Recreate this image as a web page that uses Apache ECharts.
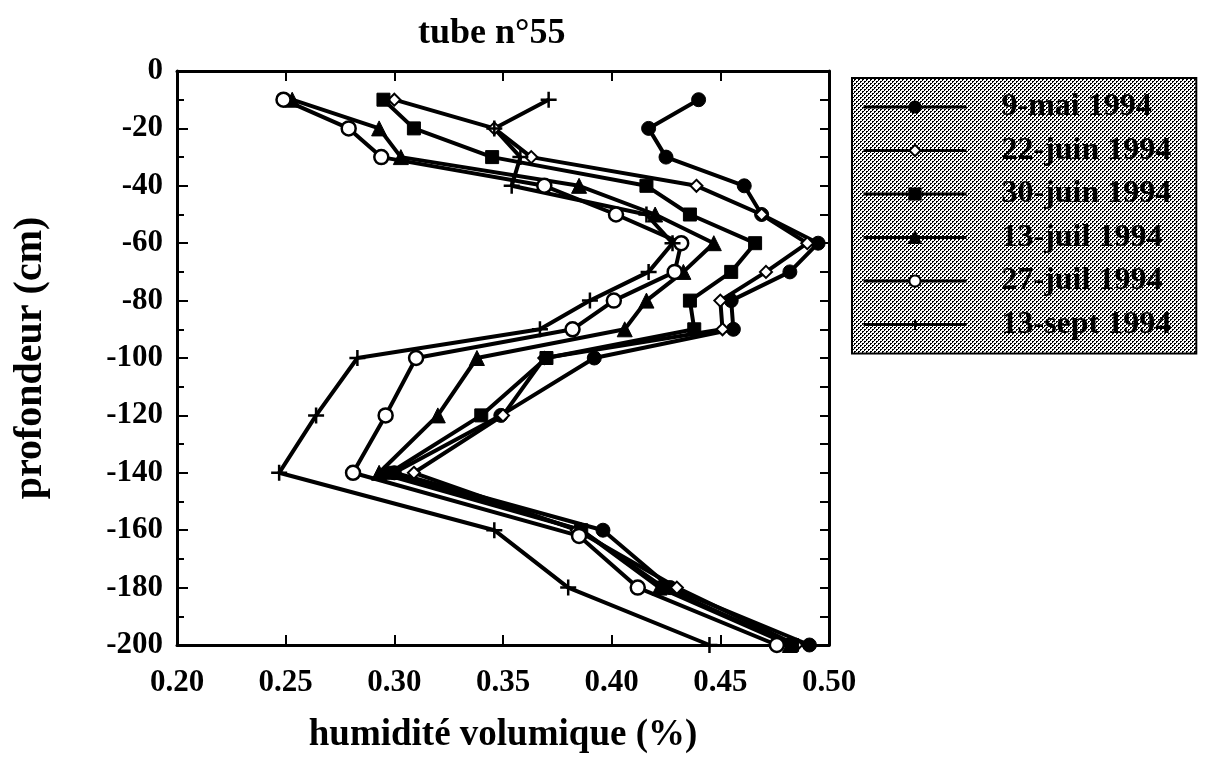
<!DOCTYPE html>
<html>
<head>
<meta charset="utf-8">
<script src="https://cdn.jsdelivr.net/npm/echarts@6/dist/echarts.min.js"></script>
<style>
html,body{margin:0;padding:0;background:#fff;}
#c{width:1213px;height:759px;}
</style>
</head>
<body>
<div id="c"></div>
<script>
// ---- data ----
const depths = [-10, -20, -30, -40, -50, -60, -70, -80, -90, -100, -120, -140, -160, -180, -200];
const depthsJuil27 = [-10, -20, -30, -40, -50, -60, -70, -80, -90, -100, -120, -140, -162, -180, -200];
const seriesNames = ['9-mai 1994', '22-juin 1994', '30-juin 1994', '13-juil 1994', '27-juil 1994', '13-sept 1994'];
const mai9   = [0.440, 0.417, 0.425, 0.461, 0.469, 0.495, 0.482, 0.455, 0.456, 0.392, 0.349, 0.300, 0.396, 0.427, 0.491];
const juin22 = [0.300, 0.346, 0.363, 0.439, 0.469, 0.490, 0.471, 0.450, 0.451, 0.369, 0.350, 0.309, 0.384, 0.430, 0.485];
const juin30 = [0.295, 0.309, 0.345, 0.416, 0.436, 0.466, 0.455, 0.436, 0.438, 0.370, 0.340, 0.298, 0.386, 0.424, 0.483];
const juil13 = [0.253, 0.293, 0.303, 0.385, 0.420, 0.447, 0.433, 0.416, 0.406, 0.338, 0.320, 0.293, 0.386, 0.422, 0.482];
const juil27 = [0.249, 0.279, 0.294, 0.369, 0.402, 0.432, 0.429, 0.401, 0.382, 0.310, 0.296, 0.281, 0.385, 0.412, 0.476];
const sept13 = [0.371, 0.346, 0.358, 0.354, 0.416, 0.428, 0.417, 0.390, 0.367, 0.283, 0.264, 0.247, 0.346, 0.380, 0.445];

const FONT = 'Liberation Serif';

function pairs(xs, ds) { return xs.map((v, i) => [v, ds[i]]); }

// halftone pattern for the legend box
const pat = document.createElement('canvas');
pat.width = 4; pat.height = 4;
(function () {
  const g = pat.getContext('2d');
  g.fillStyle = '#ffffff'; g.fillRect(0, 0, 4, 4);
  g.fillStyle = '#000000';
  g.fillRect(0, 0, 2, 1); g.fillRect(0, 1, 1, 1);
  g.fillRect(2, 2, 2, 1); g.fillRect(2, 3, 1, 1);
})();

const plusPath = 'path://M0,8L16,8M8,0L8,16';

function mk(name, xs, ds, symbol, size, fill, bw) {
  return {
    name: name,
    type: 'line',
    data: pairs(xs, ds),
    symbol: symbol,
    symbolSize: size,
    showSymbol: true,
    clip: false,
    lineStyle: { color: '#000', width: 4 },
    itemStyle: { color: fill, borderColor: '#000', borderWidth: bw },
    emphasis: { disabled: true }
  };
}

const chart = echarts.init(document.getElementById('c'), null, { renderer: 'canvas' });
chart.setOption({
  animation: false,
  backgroundColor: '#ffffff',
  title: {
    text: 'tube n°55',
    left: 413, top: 11,
    textStyle: { fontFamily: FONT, fontWeight: 'bold', fontSize: 36, color: '#000' }
  },
  legend: {
    left: 852, top: 78,
    orient: 'vertical',
    data: seriesNames,
    itemWidth: 103, itemHeight: 14, itemGap: 11.5,
    padding: [13, 25, 13, 10],
    backgroundColor: { image: pat, repeat: 'repeat' },
    borderColor: '#000', borderWidth: 2,
    lineStyle: { color: '#000', width: 3, type: 'solid' },
    textStyle: { fontFamily: FONT, fontWeight: 'bold', fontSize: 32, color: '#000', lineHeight: 32, padding: [0, 0, 0, 30] }
  },
  grid: { left: 177, right: 384, top: 71, bottom: 111, containLabel: false },
  xAxis: [{
    type: 'value', min: 0.20, max: 0.50, interval: 0.05, position: 'bottom',
    name: 'humidité volumique (%)', nameLocation: 'middle', nameGap: 72,
    nameTextStyle: { fontFamily: FONT, fontWeight: 'bold', fontSize: 37, color: '#000' },
    axisLine: { show: true, onZero: false, lineStyle: { color: '#000', width: 3 } },
    axisTick: { show: true, inside: true, length: 10, lineStyle: { color: '#000', width: 2 } },
    axisLabel: { fontFamily: FONT, fontWeight: 'bold', fontSize: 31, color: '#000', margin: 22,
      formatter: v => v.toFixed(2) },
    splitLine: { show: false }
  }, {
    type: 'value', min: 0.20, max: 0.50, interval: 0.05, position: 'top',
    axisLine: { show: true, onZero: false, lineStyle: { color: '#000', width: 3 } },
    axisTick: { show: true, inside: true, length: 10, lineStyle: { color: '#000', width: 2 } },
    axisLabel: { show: false },
    splitLine: { show: false }
  }],
  yAxis: [{
    type: 'value', min: -200, max: 0, interval: 20, position: 'left',
    name: 'profondeur (cm)', nameLocation: 'middle', nameGap: 126, nameRotate: 90,
    nameTextStyle: { fontFamily: FONT, fontWeight: 'bold', fontSize: 40, color: '#000' },
    axisLine: { show: true, onZero: false, lineStyle: { color: '#000', width: 3 } },
    axisTick: { show: true, inside: true, length: 11, lineStyle: { color: '#000', width: 2 } },
    minorTick: { show: true, splitNumber: 2, length: 7, lineStyle: { color: '#000', width: 2 } },
    axisLabel: { fontFamily: FONT, fontWeight: 'bold', fontSize: 31, color: '#000', margin: 14, padding: [6, 0, 0, 0] },
    splitLine: { show: false }
  }, {
    type: 'value', min: -200, max: 0, interval: 10, position: 'right',
    axisLine: { show: true, onZero: false, lineStyle: { color: '#000', width: 3 } },
    axisTick: { show: true, inside: true, length: 9, lineStyle: { color: '#000', width: 2 } },
    axisLabel: { show: false },
    splitLine: { show: false }
  }],
  series: [
    mk(seriesNames[0], mai9, depths, 'circle', 14, '#000', 1),
    mk(seriesNames[1], juin22, depths, 'diamond', 12, '#fff', 2),
    mk(seriesNames[2], juin30, depths, 'rect', 13, '#000', 1),
    mk(seriesNames[3], juil13, depths, 'triangle', 15, '#000', 1),
    mk(seriesNames[4], juil27, depthsJuil27, 'circle', 14, '#fff', 2.5),
    mk(seriesNames[5], sept13, depths, plusPath, 16, 'none', 2.5)
  ]
});
</script>
</body>
</html>
